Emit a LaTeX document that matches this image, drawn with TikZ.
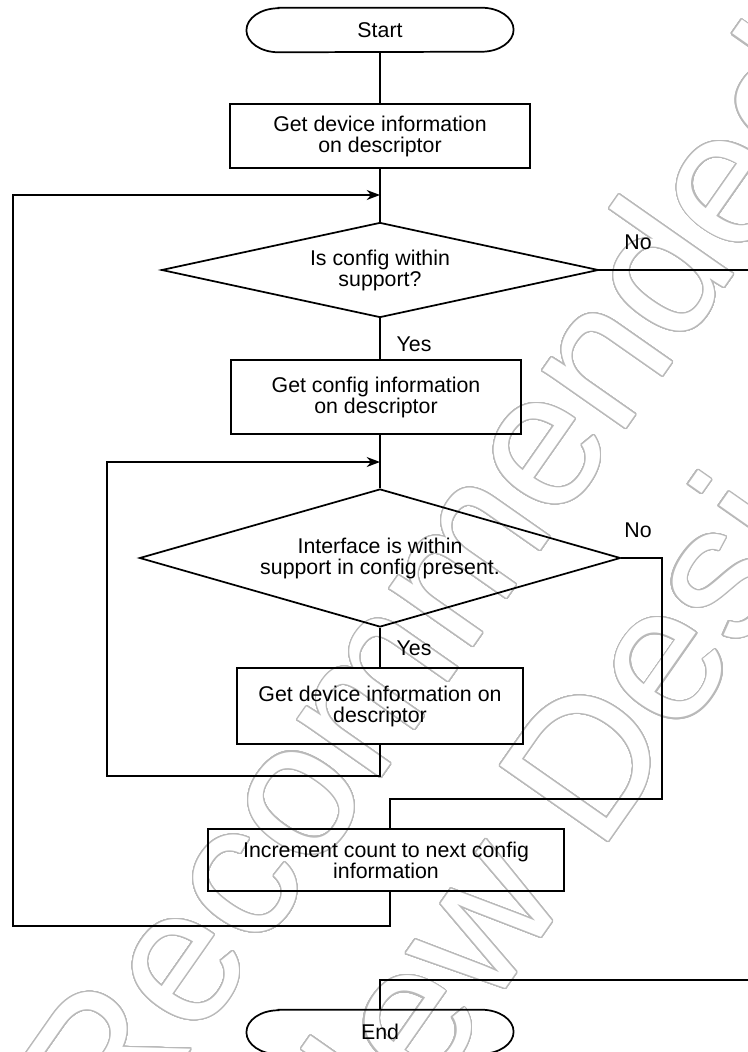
\documentclass[tikz,border=0pt]{standalone}
\usepackage{fontspec}
\setmainfont{Liberation Sans}
\usepackage[copies]{contour}
\contourlength{0.9pt}
\contournumber{48}
\usetikzlibrary{shapes.geometric, shapes.misc, arrows.meta, positioning, calc}
\definecolor{wmgray}{RGB}{185,185,185}

\begin{document}
\begin{tikzpicture}[
  x=0.75pt, y=-0.75pt,
  every node/.style={font=\fontsize{16pt}{15.75pt}\selectfont},
  term/.style={rectangle, minimum width=200pt, minimum height=33pt, inner sep=0pt},
  proc/.style={draw, line width=1.3pt, rectangle, align=center, inner sep=0pt},
  dec/.style={draw, line width=1.3pt, diamond, align=center, inner sep=0pt},
  line/.style={line width=1.3pt},
  arr/.style={line width=1.3pt, -{Stealth[length=10pt, width=7.5pt]}},
  lbl/.style={inner sep=0pt},
  wm/.style={anchor=base west, inner sep=0pt, rotate=55, font=\fontsize{144pt}{144pt}\selectfont}
]
  \useasboundingbox (0,0) rectangle (748,1052);
  \clip (0,0) rectangle (748,1052);

  % --- Watermark ---
  \node[wm] (wm1) at (116.6,1156) {\contour{wmgray}{\textcolor{white}{Recommended}}};
  \node[wm] (wm2) at (348.4,1212.7) {\contour{wmgray}{\textcolor{white}{New Design}}};

  % --- Outer loop ---
  \node[term] (st) at (380,30) {Start};
  \node[proc, minimum width=225pt, minimum height=48pt] (gd) at (380,136) {Get device information\\on descriptor};
  \coordinate (j1) at (380,195);
  \node[dec, aspect=4.6, minimum width=327.75pt, minimum height=71.25pt] (cc) at (380,270) {Is config within\\support?};
  \node[lbl] (no1) at (638,242) {No};
  \node[lbl] (ys1) at (414,344) {Yes};
  \node[proc, minimum width=218pt, minimum height=55.5pt] (gc) at (376,397) {Get config information\\on descriptor};

  % --- Inner loop ---
  \coordinate (j2) at (380,462);
  \node[dec, aspect=3.49, minimum width=360.75pt, minimum height=103.5pt] (ic) at (380,558) {Interface is within\\support in config present.};
  \node[lbl] (no2) at (638,530) {No};
  \node[lbl] (ys2) at (414,648) {Yes};
  \node[proc, minimum width=214.5pt, minimum height=57pt] (gi) at (380,706) {Get device information on\\descriptor};
  \coordinate (lb2) at (107,776);
  \coordinate (rc) at (662,799);

  \node[proc, minimum width=267pt, minimum height=46.5pt] (inc) at (386,860) {Increment count to next config\\information};
  \coordinate (lb1) at (13,926);

  % --- Exit ---
  \coordinate (r1) at (748,270);
  \coordinate (r2) at (748,980);
  \node[term] (en) at (380,1032) {End};

  % terminal outlines (elliptic ends)
  \foreach \t in {st,en}
    \draw[line] ([xshift=24pt]\t.north west) -- ([xshift=-24pt]\t.north east)
      arc[start angle=90, end angle=-90, x radius=24pt, y radius=16.5pt]
      -- ([xshift=24pt]\t.south west)
      arc[start angle=270, end angle=90, x radius=24pt, y radius=16.5pt] -- cycle;

  % --- Connectors ---
  \draw[line] (st) -- (gd);
  \draw[line] (gd) -- (cc);
  \draw[line] (cc.south) -- (cc.south |- gc.north);
  \draw[line] (gc.south -| ic.north) -- (ic.north);
  \draw[line] (ic) -- (gi);
  \draw[arr] (gi.south) |- (lb2) |- (j2);
  \draw[line] (ic.east) -| (rc) -| ([xshift=3pt]inc.north);
  \draw[arr] ([xshift=3pt]inc.south) |- (lb1) |- (j1);
  \draw[line] (cc.east) -- (r1);
  \draw[line] (r2) -| (en.north);
\end{tikzpicture}
\end{document}
